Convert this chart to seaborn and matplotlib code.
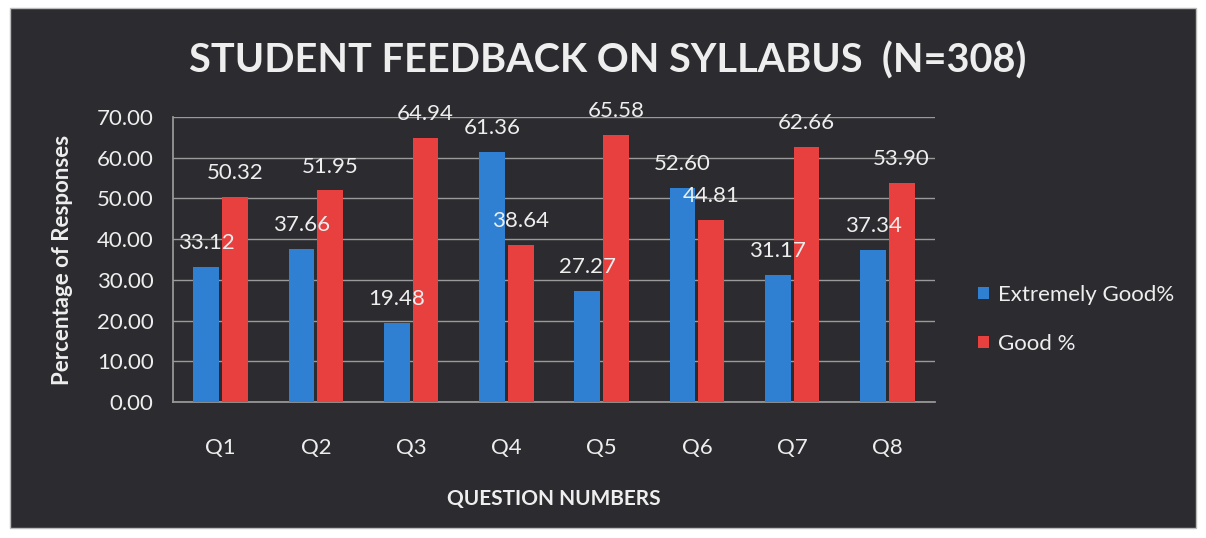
import pandas as pd
import matplotlib.pyplot as plt
import matplotlib.patches as mpatches
import seaborn as sns

# data
questions = ["Q1", "Q2", "Q3", "Q4", "Q5", "Q6", "Q7", "Q8"]
extremely_good = [33.12, 37.66, 19.48, 61.36, 27.27, 52.60, 31.17, 37.34]
good = [50.32, 51.95, 64.94, 38.64, 65.58, 44.81, 62.66, 53.90]
series_names = ["Extremely Good%", "Good %"]
y_ticks = [0, 10, 20, 30, 40, 50, 60, 70]

df = pd.DataFrame({
    "Question": questions * 2,
    "Value": extremely_good + good,
    "Series": [series_names[0]] * len(questions) + [series_names[1]] * len(questions),
})

sns.set_theme(style="dark")
plt.rcParams["font.family"] = ["Lato", "DejaVu Sans"]

BG = "#2c2c30"
TXT = "#eeeeee"
GRID = "#9a9a9a"

fig = plt.figure(figsize=(12.06, 5.38), dpi=100)
fig.patch.set_facecolor("white")
fig.patches.append(mpatches.Rectangle((10 / 1206, 10 / 538), 1186 / 1206, 520 / 538,
                                      transform=fig.transFigure, facecolor=BG,
                                      edgecolor="#bbbbbb", linewidth=1, zorder=-10))

ax = fig.add_axes([173 / 1206, 1 - 402 / 538, (935 - 173) / 1206, (402 - 117) / 538])
ax.set_facecolor(BG)

sns.barplot(data=df, x="Question", y="Value", hue="Series",
            palette=["#2f80d2", "#e8403e"], width=0.6, gap=0.1,
            saturation=1, linewidth=0, edgecolor="none", ax=ax, zorder=3)

for cont in ax.containers:
    ax.bar_label(cont, fmt="%.2f", padding=10, color=TXT, fontsize=16, zorder=5)

ax.set_ylim(0, 70)
ax.set_xlim(-0.5, 7.5)
ax.set_yticks(y_ticks)
ax.set_yticklabels([f"{t:.2f}" for t in y_ticks])
ax.yaxis.grid(True, color=GRID, linewidth=1, zorder=0)
ax.xaxis.grid(False)
ax.tick_params(axis="y", colors=TXT, labelsize=16, length=0, pad=14)
ax.tick_params(axis="x", colors=TXT, labelsize=16, length=0, pad=26)
for s in ["top", "right"]:
    ax.spines[s].set_visible(False)
ax.spines["left"].set_color(GRID)
ax.spines["bottom"].set_color(GRID)

ax.set_xlabel("QUESTION NUMBERS", color=TXT, fontsize=15, fontweight="bold", labelpad=22)
ax.set_ylabel("Percentage of Responses", color=TXT, fontsize=16, fontweight="bold", labelpad=17)

fig.text(608 / 1206, 1 - 61 / 538, "STUDENT FEEDBACK ON SYLLABUS  (N=308)",
         color=TXT, fontsize=28.5, fontweight="bold", ha="center", va="center")

leg = ax.legend(loc="center left", bbox_to_anchor=(1.03, 0.29), frameon=False,
                fontsize=16, handlelength=0.5, handleheight=0.5,
                handletextpad=0.4, labelspacing=1.3)
for t in leg.get_texts():
    t.set_color(TXT)

fig.savefig("out.png", dpi=100, facecolor=fig.get_facecolor())
